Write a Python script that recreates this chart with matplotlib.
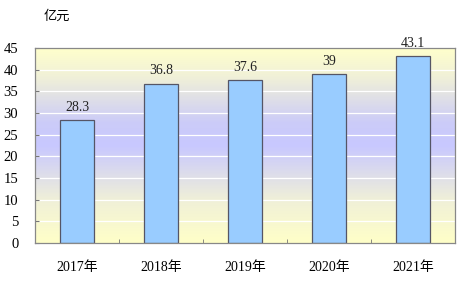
import numpy as np
import matplotlib
matplotlib.use("Agg")
import matplotlib.pyplot as plt
from matplotlib.colors import LinearSegmentedColormap

categories = ["2017年", "2018年", "2019年", "2020年", "2021年"]
values = [28.3, 36.8, 37.6, 39, 43.1]
value_labels = ["28.3", "36.8", "37.6", "39", "43.1"]
yticks = [0, 5, 10, 15, 20, 25, 30, 35, 40, 45]

fam = ["Liberation Serif", "Noto Sans CJK SC"]
plt.rcParams["font.family"] = fam

fig = plt.figure(figsize=(4.72, 2.88), dpi=100)
ax = fig.add_axes([35/472, 45/288, 420/472, 195/288])

n = len(categories)
x = np.arange(n)
ax.set_xlim(-0.5, n - 0.5)
ax.set_ylim(0, 45)

# gradient background
cmap = LinearSegmentedColormap.from_list(
    "bg", [(0, "#FFFFC8"), (0.22, "#F0F0D8"), (0.5, "#C8C8FF"), (0.62, "#CCCCF8"), (0.85, "#F0F0D8"), (1, "#FFFFCC")])
grad = np.linspace(0, 1, 256).reshape(-1, 1)
ax.imshow(grad, aspect="auto", cmap=cmap, origin="lower",
          extent=(-0.5, n - 0.5, 0, 45), zorder=0)

for yv in yticks[1:-1]:
    ax.axhline(yv, color="white", lw=0.9, zorder=1)

ax.bar(x, values, width=0.4, color="#99CCFF", edgecolor="#555566", linewidth=0.9, zorder=2)

for xi, v, lab in zip(x, values, value_labels):
    ax.text(xi, v + 2.9, lab, ha="center", va="center", fontsize=10, color="#222222", zorder=3, clip_on=False)

ax.set_yticks(yticks)
ax.set_yticklabels([str(t) for t in yticks], fontsize=10.5)
ax.set_xticks(x)
ax.set_xticklabels(categories, fontsize=10)
ax.set_xticks(np.arange(n - 1) + 0.5, minor=True)
ax.tick_params(axis="y", direction="in", length=3, color="#777777", pad=12)
ax.tick_params(axis="x", which="both", direction="in", length=3, color="#777777", pad=13)
for s in ax.spines.values():
    s.set_color("#888888")
    s.set_linewidth(0.9)

fig.text(44/472, 1 - 16/288, "亿元", fontsize=9.5, family=["Noto Sans CJK SC"], va="center", ha="left")

fig.savefig("out.png", dpi=100)
